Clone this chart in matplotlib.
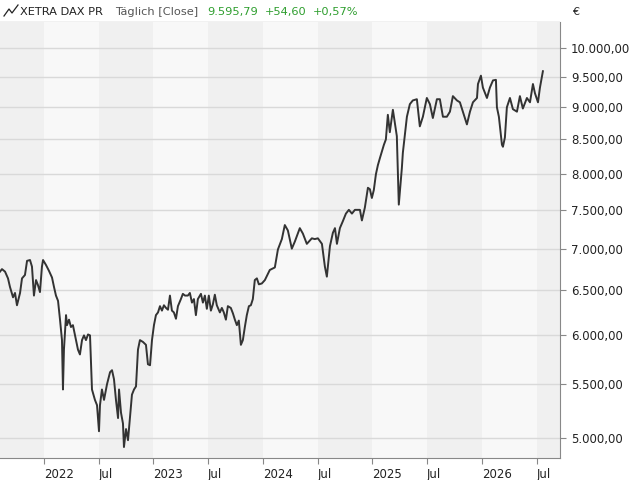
import matplotlib
matplotlib.use("Agg")
import matplotlib.pyplot as plt
import numpy as np

years = [2021.600,2021.618,2021.646,2021.673,2021.691,2021.719,2021.737,2021.755,2021.783,2021.801,2021.828,2021.847,2021.874,2021.892,2021.910,2021.929,2021.947,2021.965,2021.983,2021.993,
2022.020,2022.047,2022.075,2022.093,2022.111,2022.130,2022.148,2022.166,2022.175,2022.184,2022.203,2022.212,2022.230,2022.248,2022.266,2022.294,2022.312,2022.330,2022.349,2022.367,2022.385,2022.404,2022.422,2022.440,2022.467,2022.486,2022.504,2022.513,2022.531,2022.550,2022.577,2022.605,2022.623,2022.641,2022.659,2022.678,2022.687,2022.705,2022.723,2022.732,2022.751,2022.769,2022.787,2022.805,2022.824,2022.842,2022.860,2022.878,2022.906,2022.933,2022.951,2022.970,2022.988,
2023.006,2023.024,2023.043,2023.061,2023.079,2023.097,2023.116,2023.134,2023.152,2023.170,2023.188,2023.207,2023.225,2023.252,2023.270,2023.289,2023.316,2023.334,2023.353,2023.371,2023.389,2023.407,2023.435,2023.453,2023.471,2023.489,2023.507,2023.526,2023.544,2023.562,2023.580,2023.608,2023.626,2023.644,2023.663,2023.681,2023.708,2023.727,2023.745,2023.763,2023.781,2023.800,2023.818,2023.836,2023.854,2023.873,2023.891,2023.909,2023.927,2023.946,2023.964,2023.991,
2024.019,2024.064,2024.110,2024.138,2024.174,2024.201,2024.229,2024.265,2024.293,2024.338,2024.366,2024.402,2024.448,2024.475,2024.503,2024.540,2024.567,2024.585,2024.613,2024.640,2024.659,2024.677,2024.704,2024.731,2024.759,2024.786,2024.814,2024.841,2024.887,2024.905,2024.932,2024.960,2024.978,2024.996,
2025.014,2025.033,2025.051,2025.069,2025.106,2025.124,2025.142,2025.160,2025.188,2025.224,2025.242,2025.270,2025.279,2025.316,2025.343,2025.370,2025.407,2025.434,2025.462,2025.498,2025.526,2025.553,2025.590,2025.617,2025.645,2025.681,2025.709,2025.736,2025.773,2025.800,2025.827,2025.864,2025.892,2025.919,2025.956,2025.965,2025.992,
2026.010,2026.047,2026.074,2026.102,2026.129,2026.138,2026.156,2026.184,2026.193,2026.211,2026.229,2026.257,2026.284,2026.321,2026.348,2026.375,2026.412,2026.440,2026.467,2026.485,2026.513,2026.531,2026.558]

close = [6720,6750,6720,6640,6540,6420,6470,6330,6470,6640,6680,6850,6860,6780,6440,6620,6560,6480,6780,6860,
6800,6730,6650,6540,6440,6380,6170,5950,5450,5850,6220,6110,6170,6090,6110,5950,5850,5800,5950,6000,5950,6010,6000,5450,5350,5300,5060,5300,5450,5350,5500,5620,5640,5550,5350,5180,5450,5230,5130,4920,5080,4980,5180,5400,5450,5480,5850,5950,5930,5900,5700,5690,5950,
6110,6220,6250,6320,6270,6330,6300,6280,6440,6270,6250,6180,6320,6400,6460,6440,6440,6470,6360,6400,6220,6400,6460,6360,6440,6290,6440,6270,6340,6450,6330,6250,6300,6250,6170,6320,6300,6240,6170,6110,6160,5900,5950,6090,6220,6320,6330,6400,6620,6640,6570,6580,
6620,6740,6770,6990,7120,7300,7230,7000,7090,7260,7190,7060,7130,7120,7130,7060,6780,6660,7030,7200,7260,7060,7260,7350,7450,7500,7450,7500,7500,7360,7530,7800,7780,7660,
7770,7990,8120,8220,8420,8500,8880,8610,8960,8550,7570,8080,8300,8850,9050,9110,9130,8700,8850,9150,9050,8830,9130,9130,8850,8850,8930,9180,9110,9080,8930,8730,8930,9080,9150,9380,9520,
9320,9150,9320,9440,9450,9000,8850,8420,8390,8530,9000,9150,8970,8930,9180,8980,9150,9080,9380,9230,9080,9320,9595.79]

yticks = [5000, 5500, 6000, 6500, 7000, 7500, 8000, 8500, 9000, 9500, 10000]
ytick_labels = ["5.000,00", "5.500,00", "6.000,00", "6.500,00", "7.000,00", "7.500,00",
                "8.000,00", "8.500,00", "9.000,00", "9.500,00", "10.000,00"]
xticks = [2022.0, 2022.5, 2023.0, 2023.5, 2024.0, 2024.5, 2025.0, 2025.5, 2026.0, 2026.5]
xtick_labels = ["2022", "Jul", "2023", "Jul", "2024", "Jul", "2025", "Jul", "2026", "Jul"]

W, H = 640, 480
fig = plt.figure(figsize=(6.4, 4.8), dpi=100)
ax = fig.add_axes([0, 22/H, 560/W, (458-22)/H])
x0, x1 = 2021.6, 2021.6 + 560/109.5
ax.set_xlim(x0, x1)
ax.set_yscale("log")
ax.set_ylim(4825, 10473)
ax.set_facecolor("#f8f8f8")
for s in [2021.5, 2022.5, 2023.5, 2024.5, 2025.5, 2026.5]:
    ax.axvspan(s, s + 0.5, color="#f0f0f0", zorder=0, lw=0)
for v in yticks:
    ax.axhline(v, color="#d9d9d9", lw=1, zorder=1)
ax.plot(years, close, color="#333333", lw=1.4, zorder=3)

ax.yaxis.tick_right()
ax.set_yticks(yticks)
ax.set_yticklabels(ytick_labels)
ax.yaxis.set_minor_locator(matplotlib.ticker.NullLocator())
ax.yaxis.set_minor_formatter(matplotlib.ticker.NullFormatter())
ax.tick_params(axis="y", length=4, color="#888888", labelsize=8.5, labelcolor="#222222", pad=4)
ax.set_xticks(xticks)
ax.set_xticklabels(xtick_labels)
for lab in ax.get_xticklabels():
    lab.set_horizontalalignment("left")
ax.tick_params(axis="x", length=4, color="#888888", labelsize=8.5, labelcolor="#222222", pad=3)
for side in ["top", "left"]:
    ax.spines[side].set_visible(False)
ax.spines["bottom"].set_color("#888888")
ax.spines["right"].set_color("#888888")

fig.text(572/W, 1 - 12/H, "€", fontsize=8, color="#222222", va="center")
hx = fig.add_axes([0, 458/H, 560/W, 22/H])
hx.set_xlim(0, 560); hx.set_ylim(0, 22); hx.axis("off")
hx.plot([4, 9, 12, 18], [6, 13, 9, 17], color="#222222", lw=0.9)
fs = 8.2
hx.text(20, 10, "XETRA DAX PR", fontsize=fs, color="#222222", va="center")
hx.text(115, 10, "Täglich [Close]", fontsize=fs, color="#555555", va="center")
hx.text(207, 10, "9.595,79", fontsize=fs, color="#2e9e2e", va="center")
hx.text(265, 10, "+54,60", fontsize=fs, color="#2e9e2e", va="center")
hx.text(313, 10, "+0,57%", fontsize=fs, color="#2e9e2e", va="center")
hx.axhline(0.5, color="#bbbbbb", lw=1)

fig.savefig("out.png", dpi=100)
